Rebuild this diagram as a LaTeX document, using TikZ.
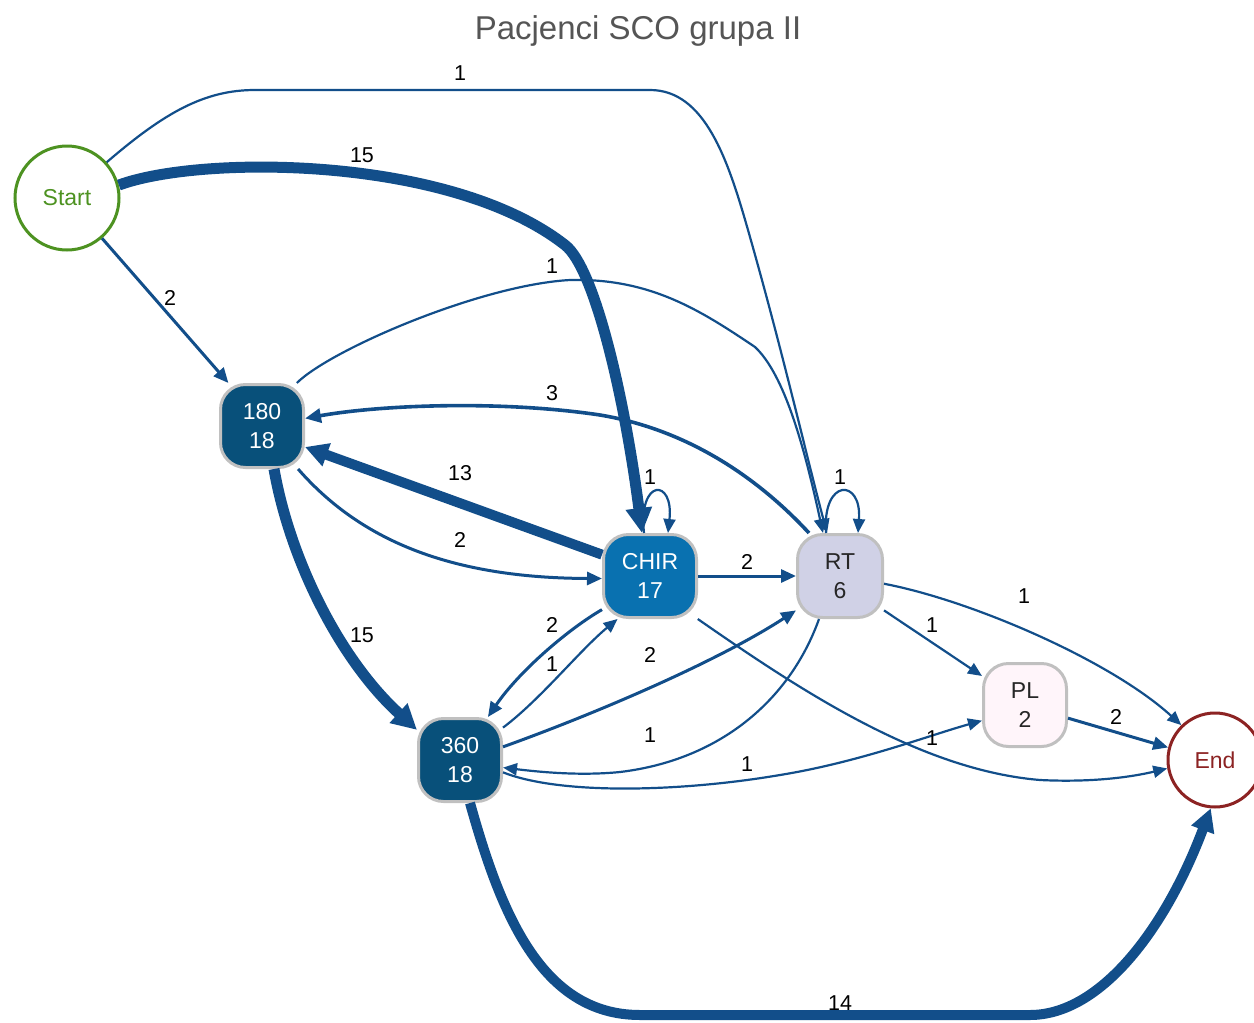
\documentclass[tikz,border=0pt]{standalone}
\usepackage{fontspec}
\setmainfont{Liberation Sans}
\usetikzlibrary{arrows.meta}
\definecolor{eb}{RGB}{18,78,138}
\definecolor{darkbox}{RGB}{8,80,122}
\definecolor{chirbox}{RGB}{9,113,176}
\definecolor{rtbox}{RGB}{208,209,230}
\definecolor{plbox}{RGB}{255,245,250}
\definecolor{boxgray}{RGB}{192,192,192}
\definecolor{startgreen}{RGB}{77,146,33}
\definecolor{endred}{RGB}{140,35,35}
\definecolor{titlegray}{RGB}{85,85,85}
\begin{document}
\begin{tikzpicture}[x=1pt,y=-1pt,
  box/.style={rectangle, rounded corners=25pt, minimum width=83pt, minimum height=83pt,
    line width=3pt, draw=boxgray, align=center, inner sep=0pt,
    font=\fontsize{23}{29}\selectfont},
  circ/.style={circle, line width=3pt, inner sep=0pt, font=\fontsize{23}{27}\selectfont},
  lbl/.style={font=\fontsize{21.5}{24}\selectfont, text=black, inner sep=1pt},
  e1/.style={draw=eb, line width=2.2pt, -{Triangle[length=14pt,width=12pt]}},
  e2/.style={draw=eb, line width=3pt, -{Triangle[length=15pt,width=13pt]}},
  e3/.style={draw=eb, line width=3.6pt, -{Triangle[length=16pt,width=14pt]}},
  ebig/.style={draw=eb, line width=10pt, -{Triangle[length=23pt,width=23pt]}},
  ehuge/.style={draw=eb, line width=11pt, -{Triangle[length=25pt,width=25pt]}},
]
\useasboundingbox (0,0) rectangle (1254,1023);

% title
\node[text=titlegray, font=\fontsize{33}{36}\selectfont] (title) at (638,31) {Pacjenci SCO grupa II};

% nodes
\node[circ, draw=startgreen, text=startgreen, minimum size=104pt] (st) at (67,198) {Start};
\node[circ, draw=endred, text=endred, minimum size=94pt] (fin) at (1215,760) {End};
\node[box, fill=darkbox, text=white] (s180) at (262,426) {180\\18};
\node[box, fill=chirbox, text=white, minimum width=93pt] (chir) at (650,576) {CHIR\\17};
\node[box, fill=rtbox, text=black!85, minimum width=85pt] (rt) at (840,576) {RT\\6};
\node[box, fill=plbox, text=black!85] (pl) at (1025,705) {PL\\2};
\node[box, fill=darkbox, text=white] (s360) at (460,760) {360\\18};

% edges
\draw[e1] (st.42) .. controls (165,112) and (205,90) .. (255,90) -- (650,90)
  .. controls (705,90) and (728,160) .. (748,230)
  .. controls (782,349) and (805,450) .. ([xshift=-13pt]rt.north);
\draw[e1] (s180.51) .. controls (330,350) and (480,285) .. (570,280)
  .. controls (650,278) and (700,310) .. (755,347)
  .. controls (785,375) and (805,450) .. ([xshift=-17pt]rt.north);
\draw[e3] ([xshift=-31pt]rt.north) .. controls (760,480) and (690,430) .. (600,415)
  .. controls (500,400) and (380,405) .. (s180.10);
\draw[ehuge] (st.14) .. controls (200,155) and (450,155) .. (565,245)
  .. controls (595,268) and (625,400) .. ([xshift=-8pt]chir.north);
\draw[e2] (st.-49) -- (s180.128);
\draw[ebig] (chir.156) -- (s180.-26);
\draw[e2] (s180.-50) .. controls (360,540) and (450,578) .. (chir.183);
\draw[e1] ([xshift=-6pt]chir.north) .. controls (638,478) and (674,478) .. ([xshift=18pt]chir.north);
\draw[e1] ([xshift=-14pt]rt.north) .. controls (822,478) and (862,478) .. ([xshift=18pt]rt.north);
\draw[e2] (chir.east) -- (rt.west);
\draw[ehuge] ([xshift=12pt]s180.south) .. controls (290,560) and (340,660) .. (s360.145);
\draw[e2] (chir.215) .. controls (570,628) and (520,670) .. (s360.57);
\draw[e1] (s360.37) .. controls (540,700) and (580,650) .. (chir.233);
\draw[e2] (s360.17) .. controls (600,712) and (720,660) .. (rt.218);
\draw[e1] (rt.244) .. controls (790,700) and (720,760) .. (620,772)
  .. controls (580,776) and (540,772) .. (s360.-10);
\draw[e1] (s360.-16) .. controls (560,795) and (680,792) .. (780,775)
  .. controls (860,762) and (930,735) .. (pl.200);
\draw[e1] (chir.-42) .. controls (800,690) and (920,770) .. (1040,780)
  .. controls (1100,783) and (1140,775) .. (fin.190);
\draw[e1] (rt.-38) -- (pl.146);
\draw[e1] (rt.-10) .. controls (970,600) and (1110,660) .. (fin.134);
\draw[e2] (pl.-17) -- (fin.165);
\draw[ebig] ([xshift=10pt]s360.south) .. controls (500,910) and (540,1015) .. (640,1015)
  -- (1030,1015) .. controls (1100,1015) and (1165,930) .. (fin.265);

% labels
\node[lbl] (l1) at (460,73) {1};
\node[lbl] (l2) at (362,155) {15};
\node[lbl] (l3) at (170,298) {2};
\node[lbl] (l4) at (552,266) {1};
\node[lbl] (l5) at (552,393) {3};
\node[lbl] (l6) at (460,473) {13};
\node[lbl] (l7) at (460,540) {2};
\node[lbl] (l8) at (650,477) {1};
\node[lbl] (l9) at (840,477) {1};
\node[lbl] (l10) at (747,562) {2};
\node[lbl] (l11) at (362,635) {15};
\node[lbl] (l12) at (552,625) {2};
\node[lbl] (l13) at (552,664) {1};
\node[lbl] (l14) at (650,655) {2};
\node[lbl] (l15) at (650,735) {1};
\node[lbl] (l16) at (747,764) {1};
\node[lbl] (l17) at (932,738) {1};
\node[lbl] (l18) at (932,625) {1};
\node[lbl] (l19) at (1024,596) {1};
\node[lbl] (l20) at (1116,717) {2};
\node[lbl] (l21) at (840,1003) {14};
\end{tikzpicture}
\end{document}
